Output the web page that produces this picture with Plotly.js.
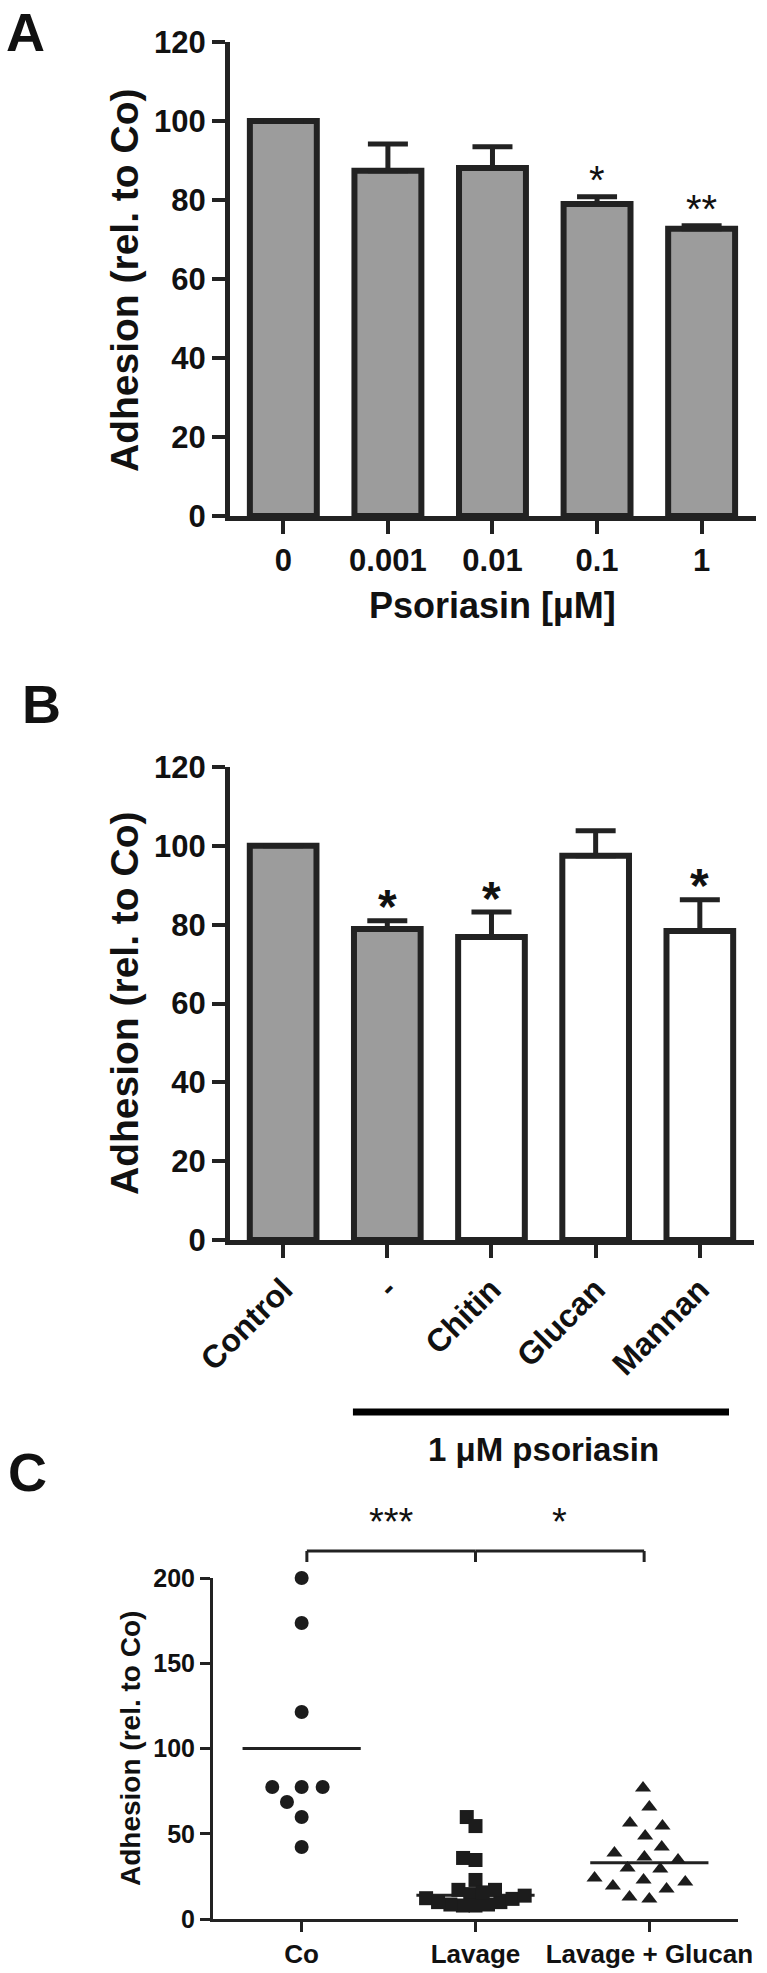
<!DOCTYPE html>
<html>
<head>
<meta charset="utf-8">
<script src="https://cdn.plot.ly/plotly-3.0.1.min.js"></script>
<style>
  body { margin: 0; background: #fff; }
  #fig { width: 767px; height: 1973px; }
</style>
</head>
<body>
<div id="fig"></div>
<script>
// ---- data ----
var doseLabels = ['0', '0.001', '0.01', '0.1', '1'];
var doseMeans = [100, 87.4, 88.1, 79.0, 72.7];
var doseErr = [0, 6.8, 5.4, 1.8, 0.8];
var doseStars = ['', '', '', '*', '**'];

var carbLabels = ['Control', '-', 'Chitin', 'Glucan', 'Mannan'];
var carbMeans = [100, 78.9, 76.9, 97.5, 78.4];
var carbErr = [0, 2.1, 6.3, 6.3, 7.9];
var carbStars = ['', '*', '*', '', '*'];

var groupLabels = ['Co', 'Lavage', 'Lavage + Glucan'];
var coVals = [200, 173.6, 121.4, 77.4, 77.4, 77.4, 68.6, 59.8, 42.2];
var lavageVals = [59.8, 54.5, 35.8, 34.6, 22.9, 17.1, 14.6, 12.2, 9.9, 8.5, 7.9,
                  7.9, 8.5, 9.9, 11.8, 13.7, 15.6, 17.1];
var glucanVals = [76.8, 65.7, 56.3, 54.5, 48.7, 42.2, 38.7, 36.4, 34.6, 29.9, 29.3,
                  24.0, 22.9, 21.7, 19.4, 17.6, 12.9, 11.7];
var groupMeans = [100, 14, 33];
var sigPairs = [[0, 1, '***'], [1, 2, '*']];

// ---- page geometry ----
var W = 767, H = 1973;
function fx(p) { return p / W; }
function fy(p) { return 1 - p / H; }

var ink = '#222222';
var grey = '#9c9c9c';
var fam = 'Liberation Sans, Arial, sans-serif';
function bold(size) { return {family: fam, size: size, color: '#111', weight: 'bold'}; }

// simple beeswarm: lowest values first, each point goes to the nearest free spot
function placeSwarm(vals, k, D) {
    var order = vals.map(function(v, i) { return i; })
        .sort(function(a, b) { return vals[a] - vals[b]; });
    var placed = [], off = new Array(vals.length).fill(0);
    order.forEach(function(i) {
        var y = vals[i] * k, cands = [0];
        placed.forEach(function(p) {
            var dy = Math.abs(p.y - y);
            if (dy < D) {
                var dx = Math.sqrt(D * D - dy * dy);
                cands.push(p.x + dx, p.x - dx);
            }
        });
        cands.sort(function(a, b) { return Math.abs(a) - Math.abs(b) || a - b; });
        var x = cands.find(function(c) {
            return placed.every(function(p) { return Math.hypot(p.x - c, p.y - y) >= D - 1e-6; });
        });
        off[i] = x;
        placed.push({x: x, y: y});
    });
    return off;
}
function swarm(vals, k, D, cap) {
    var off = placeSwarm(vals, k, D);
    while (Math.max.apply(null, off.map(Math.abs)) > cap && D > 2) {
        D *= 0.95;
        off = placeSwarm(vals, k, D);
    }
    return off;
}

function initGraficos() {
    var idx5 = [0, 1, 2, 3, 4];

    // panel A bars
    var barsA = {
        type: 'bar', x: idx5, y: doseMeans, xaxis: 'x', yaxis: 'y',
        marker: {color: grey, line: {color: ink, width: 6}},
        error_y: {type: 'data', symmetric: false, array: doseErr,
                  arrayminus: doseErr.map(function() { return 0; }),
                  color: ink, thickness: 5, width: 20},
        hoverinfo: 'skip'
    };

    // panel B bars (first two without polysaccharide are grey)
    var barsB = {
        type: 'bar', x: idx5, y: carbMeans, xaxis: 'x2', yaxis: 'y2',
        marker: {color: carbLabels.map(function(l, i) { return i < 2 ? grey : '#ffffff'; }),
                 line: {color: ink, width: 6}},
        error_y: {type: 'data', symmetric: false, array: carbErr,
                  arrayminus: carbErr.map(function() { return 0; }),
                  color: ink, thickness: 5, width: 20},
        hoverinfo: 'skip'
    };

    // panel C scatter
    var pxPerCat = 525 / 3.02, pxPerUnit = 341 / 200;
    var groups = [coVals, lavageVals, glucanVals];
    var symbols = ['circle', 'square', 'triangle-up'];
    var traces = [barsA, barsB];
    groups.forEach(function(vals, g) {
        traces.push({
            type: 'scatter', mode: 'lines', xaxis: 'x3', yaxis: 'y3',
            x: [g - 0.34, g + 0.34], y: [groupMeans[g], groupMeans[g]],
            line: {color: ink, width: 3}, hoverinfo: 'skip'
        });
    });
    groups.forEach(function(vals, g) {
        var off = swarm(vals, pxPerUnit, 21, 55);
        traces.push({
            type: 'scatter', mode: 'markers', xaxis: 'x3', yaxis: 'y3',
            x: off.map(function(o) { return g + o / pxPerCat; }), y: vals,
            marker: {symbol: symbols[g], size: 14, color: '#1c1c1c'},
            hoverinfo: 'skip', cliponaxis: false
        });
    });

    var barAxisX = {
        range: [-0.51, 4.52], tickvals: idx5, showgrid: false, zeroline: false,
        showline: true, linecolor: ink, linewidth: 5,
        ticks: 'outside', ticklen: 13, tickwidth: 4, tickcolor: ink,
        tickfont: bold(31)
    };
    var barAxisY = {
        range: [0, 120], dtick: 20, showgrid: false, zeroline: false,
        showline: true, linecolor: ink, linewidth: 5,
        ticks: 'outside', ticklen: 13, tickwidth: 4, tickcolor: ink,
        tickfont: bold(31)
    };

    // panel letters
    var annotations = [
        {text: 'A', x: fx(4), y: 1},
        {text: 'B', x: fx(20), y: fy(672)},
        {text: 'C', x: fx(6), y: fy(1440)}
    ].map(function(a) {
        return Object.assign(a, {xref: 'paper', yref: 'paper', showarrow: false,
            xanchor: 'left', yanchor: 'top', font: bold(54)});
    });

    // axis titles
    annotations.push(
        {text: 'Adhesion (rel. to Co)', x: fx(124), y: fy(280), textangle: -90, font: bold(39)},
        {text: 'Adhesion (rel. to Co)', x: fx(124), y: fy(1003), textangle: -90, font: bold(39)},
        {text: 'Adhesion (rel. to Co)', x: fx(130), y: fy(1749), textangle: -90, font: bold(28)},
        {text: 'Psoriasin [µM]', x: fx(492), y: fy(606), font: bold(36)},
        {text: '1 μM psoriasin', x: fx(543), y: fy(1449), font: bold(33)}
    );
    annotations.forEach(function(a) {
        if (!a.xref) {
            a.xref = 'paper'; a.yref = 'paper'; a.showarrow = false;
            a.xanchor = 'center'; a.yanchor = 'middle';
        }
    });

    // significance stars over bars
    doseStars.forEach(function(s, i) {
        if (!s) return;
        annotations.push({text: s, xref: 'x', yref: 'y', x: i, y: doseMeans[i] + doseErr[i],
            showarrow: false, yanchor: 'middle', yshift: 17,
            font: {family: fam, size: 40, color: '#111'}});
    });
    carbStars.forEach(function(s, i) {
        if (!s) return;
        annotations.push({text: s, xref: 'x2', yref: 'y2', x: i, y: carbMeans[i] + carbErr[i],
            showarrow: false, yanchor: 'middle', yshift: 14,
            font: {family: fam, size: 48, color: '#111', weight: 'bold'}});
    });

    // brackets in panel C
    var shapes = [];
    var yTop = fy(1551), yEnd = fy(1562);
    var ends = {0: 0.03, 1: 1, 2: 1.97};
    sigPairs.forEach(function(p) {
        var a = ends[p[0]], b = ends[p[1]];
        shapes.push({type: 'line', xref: 'x3', yref: 'paper', x0: a, x1: b, y0: yTop, y1: yTop,
                     line: {color: ink, width: 3}});
        annotations.push({text: p[2], xref: 'x3', yref: 'paper', x: (a + b) / 2, y: fy(1522),
            showarrow: false, xanchor: 'center', yanchor: 'middle',
            font: {family: fam, size: 38, color: '#111'}});
    });
    [0, 1, 2].forEach(function(g) {
        shapes.push({type: 'line', xref: 'x3', yref: 'paper', x0: ends[g], x1: ends[g], y0: yTop, y1: yEnd,
                     line: {color: ink, width: 3}});
    });
    // treatment bar under panel B
    shapes.push({type: 'line', xref: 'x2', yref: 'paper', x0: 0.67, x1: 4.28, y0: fy(1412), y1: fy(1412),
                 line: {color: '#000', width: 7}});

    var layout = {
        width: W, height: H, margin: {l: 0, r: 0, t: 0, b: 0},
        paper_bgcolor: '#fff', plot_bgcolor: 'rgba(0,0,0,0)',
        showlegend: false, bargap: 0.36,
        xaxis: Object.assign({}, barAxisX, {domain: [fx(230), fx(756)], anchor: 'y', ticktext: doseLabels}),
        yaxis: Object.assign({}, barAxisY, {domain: [fy(516), fy(42)], anchor: 'x'}),
        xaxis2: Object.assign({}, barAxisX, {domain: [fx(230), fx(754)], anchor: 'y2',
                 ticktext: carbLabels, tickangle: -45, tickfont: bold(32)}),
        yaxis2: Object.assign({}, barAxisY, {domain: [fy(1240), fy(767)], anchor: 'x2'}),
        xaxis3: {domain: [fx(213), fx(738)], anchor: 'y3', range: [-0.51, 2.51],
                 tickvals: [0, 1, 2], ticktext: groupLabels, showgrid: false, zeroline: false,
                 showline: true, linecolor: ink, linewidth: 3,
                 ticks: 'outside', ticklen: 10, tickwidth: 3, tickcolor: ink, tickfont: bold(26)},
        yaxis3: {domain: [fy(1919), fy(1578)], anchor: 'x3', range: [0, 200], dtick: 50,
                 showgrid: false, zeroline: false, showline: true, linecolor: ink, linewidth: 3,
                 ticks: 'outside', ticklen: 10, tickwidth: 3, tickcolor: ink, tickfont: bold(25)},
        annotations: annotations,
        shapes: shapes
    };

    Plotly.newPlot('fig', traces, layout, {displayModeBar: false, staticPlot: true});
}

document.addEventListener('DOMContentLoaded', function() {
    initGraficos();
});
</script>
</body>
</html>
